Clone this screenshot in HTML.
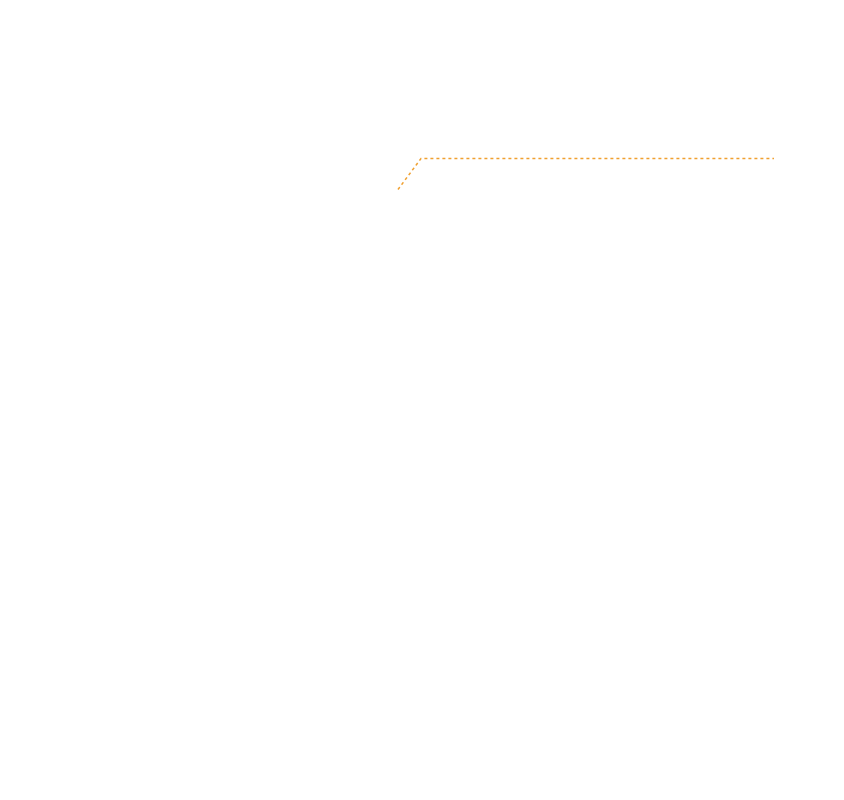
<!DOCTYPE html>
<html><head><meta charset="utf-8"><style>html,body{margin:0;padding:0;background:#fff;width:844px;height:800px;overflow:hidden}</style></head>
<body>
<svg width="844" height="800" xmlns="http://www.w3.org/2000/svg">
<polyline points="398,189.5 421,158.5 774,158.5" fill="none" stroke="#f0a030" stroke-width="1.5" stroke-dasharray="3,3"/>
</svg>
</body></html>
